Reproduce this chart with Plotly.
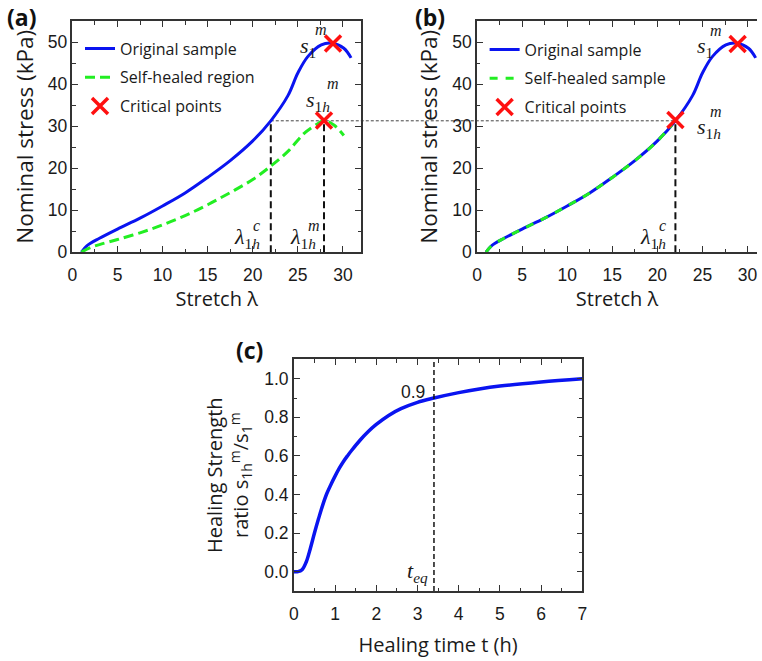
import plotly.graph_objects as go

# ---------------- data ----------------
# (a)/(b) original sample stress-stretch curve
lam_orig = [1.0, 1.6, 3.0, 5.0, 7.5, 10.0, 12.5, 15.0, 17.5, 20.0, 22.0, 23.9, 25.0, 26.1, 27.6, 28.8, 30.1, 30.9]
s_orig = [0.0, 1.5, 3.3, 5.5, 8.1, 11.0, 14.1, 17.8, 21.8, 26.5, 31.3, 37.3, 42.7, 46.6, 49.4, 49.8, 48.6, 46.3]

# (a) self-healed region
lam_heal = [1.0, 2.0, 3.0, 5.0, 7.5, 10.0, 12.5, 15.0, 17.5, 20.0, 22.0, 23.9, 25.7, 27.2, 27.9, 29.0, 30.1]
s_heal = [0.0, 1.1, 1.8, 3.0, 4.6, 6.5, 8.7, 11.3, 14.2, 17.3, 20.5, 24.0, 28.3, 30.6, 31.4, 30.3, 27.8]

# (b) self-healed sample (coincides with original up to rupture)
lam_heal_b = [1.0, 1.6, 3.0, 5.0, 7.5, 10.0, 12.5, 15.0, 17.5, 20.0, 21.6]
s_heal_b = [0.0, 1.5, 3.3, 5.5, 8.1, 11.0, 14.1, 17.8, 21.8, 26.5, 30.3]

# critical points
crit_a_lam = [28.9, 27.9]
crit_a_s = [49.7, 31.4]
crit_b_lam = [28.9, 22.0]
crit_b_s = [49.6, 31.5]

lam_c = 22.0      # lambda_1h^c
lam_m = 27.9      # lambda_1h^m
s_1h_m = 31.3     # s_1h^m

# (c) healing strength ratio vs time
t_heal = [0.0, 0.1, 0.2, 0.3, 0.4, 0.5, 0.6, 0.7, 0.8, 0.9, 1.0, 1.1, 1.2, 1.3, 1.4, 1.6, 1.8, 2.0, 2.3, 2.6,
          3.0, 3.4, 4.0, 4.5, 5.0, 6.0, 7.0]
ratio = [0.0, 0.0, 0.01, 0.05, 0.12, 0.20, 0.275, 0.345, 0.405, 0.452, 0.495, 0.535, 0.57, 0.60, 0.628,
         0.68, 0.725, 0.763, 0.81, 0.845, 0.878, 0.90, 0.928, 0.947, 0.962, 0.983, 1.0]
t_eq = 3.4

x_ticks_ab = [0, 5, 10, 15, 20, 25, 30]
y_ticks_ab = [0, 10, 20, 30, 40, 50]
x_ticks_c = [0, 1, 2, 3, 4, 5, 6, 7]
y_ticks_c = [0.0, 0.2, 0.4, 0.6, 0.8, 1.0]

# ---------------- style ----------------
W, H = 762, 661
BLUE = "#0a14f0"
GREEN = "#22ee22"
RED = "#ff1010"
TICKFONT = dict(family="Liberation Sans, Arial", size=17.5, color="#1a1a1a")
TITLEFONT = dict(family="Open Sans", size=20, color="#1a1a1a")
TITLEFONT_Y = dict(family="Open Sans", size=22.5, color="#1a1a1a")

dom_a_x = [68.3 / W, 360.7 / W]
dom_b_x = [478.3 / W, 1.0]
dom_ab_y = [(H - 256) / H, (H - 21.7) / H]
dom_c_x = [292.7 / W, 585.0 / W]
dom_c_y = [(H - 600) / H, (H - 365) / H]

range_a_x = [0, 32]
range_b_x = [0, 0 + (W - 478.3) / ((360.7 - 68.3) / 32)]
range_ab_y = [0, 55]

fig = go.Figure()

# ----- panel (a) -----
fig.add_trace(go.Scatter(x=lam_orig, y=s_orig, mode="lines", line=dict(color=BLUE, width=3, shape="spline"),
                         name="Original sample", xaxis="x", yaxis="y", legend="legend", legendgroup="a1"))
fig.add_trace(go.Scatter(x=lam_heal, y=s_heal, mode="lines",
                         line=dict(color=GREEN, width=3, dash="10px,5px", shape="spline"),
                         name="Self-healed region", xaxis="x", yaxis="y", legend="legend", legendgroup="a2"))
fig.add_trace(go.Scatter(x=crit_a_lam, y=crit_a_s, mode="markers",
                         marker=dict(symbol="x-thin", size=16, line=dict(color=RED, width=3.5)),
                         name="Critical points", xaxis="x", yaxis="y", legend="legend", legendgroup="a3"))

# ----- panel (b) -----
fig.add_trace(go.Scatter(x=lam_orig, y=s_orig, mode="lines", line=dict(color=BLUE, width=3, shape="spline"),
                         name="Original sample", xaxis="x2", yaxis="y2", legend="legend2", legendgroup="b1"))
fig.add_trace(go.Scatter(x=lam_heal_b, y=s_heal_b, mode="lines",
                         line=dict(color=GREEN, width=3, dash="8px,8px", shape="spline"),
                         name="Self-healed sample", xaxis="x2", yaxis="y2", legend="legend2", legendgroup="b2"))
fig.add_trace(go.Scatter(x=crit_b_lam, y=crit_b_s, mode="markers",
                         marker=dict(symbol="x-thin", size=16, line=dict(color=RED, width=3.5)),
                         name="Critical points", xaxis="x2", yaxis="y2", legend="legend2", legendgroup="b3"))

# ----- panel (c) -----
fig.add_trace(go.Scatter(x=t_heal, y=ratio, mode="lines", line=dict(color=BLUE, width=3.5, shape="spline"),
                         showlegend=False, xaxis="x3", yaxis="y3"))


def axis(domain, rng, tickvals, minor_dtick, anchor, title, mirror="ticks", fmt=None, standoff=None,
         tfont=TITLEFONT, labelstandoff=0):
    d = dict(domain=domain, range=rng, tickvals=tickvals, anchor=anchor,
             showline=True, linecolor="#333333", linewidth=1.5, mirror=mirror,
             ticks="inside", ticklen=6, tickwidth=1.3, tickcolor="#333333",
             minor=dict(ticks="inside", ticklen=3.5, tickwidth=1.2, tickcolor="#333333", dtick=minor_dtick),
             showgrid=False, zeroline=False, tickfont=TICKFONT, ticklabelstandoff=labelstandoff,
             title=dict(text=title, font=tfont))
    if standoff is not None:
        d["title"]["standoff"] = standoff
    if fmt:
        d["tickformat"] = fmt
    return d


fig.update_layout(
    width=W, height=H, margin=dict(l=0, r=0, t=0, b=0),
    paper_bgcolor="white", plot_bgcolor="white",
    font=dict(family="Open Sans", color="#1a1a1a"),
    xaxis=axis(dom_a_x, range_a_x, x_ticks_ab, 2.5, "y", "Stretch λ", standoff=0, labelstandoff=6),
    yaxis=axis(dom_ab_y, range_ab_y, y_ticks_ab, 5, "x", "Nominal stress (kPa)", standoff=8, tfont=TITLEFONT_Y),
    xaxis2=axis(dom_b_x, range_b_x, x_ticks_ab, 2.5, "y2", "Stretch λ", standoff=0, labelstandoff=6),
    yaxis2=axis(dom_ab_y, range_ab_y, y_ticks_ab, 5, "x2", "Nominal stress (kPa)", mirror=False, standoff=8,
                tfont=TITLEFONT_Y),
    xaxis3=axis(dom_c_x, [0, 7], x_ticks_c, 0.5, "y3", "Healing time t (h)", standoff=15, labelstandoff=6),
    yaxis3=axis(dom_c_y, [-0.1, 1.1], y_ticks_c, 0.1, "x3",
                "Healing Strength<br>ratio s<sub>1h</sub><sup>m</sup>/s<sub>1</sub><sup>m</sup>",
                fmt=".1f", standoff=10),
    legend=dict(x=76 / W, y=(H - 32) / H, xanchor="left", yanchor="top", bgcolor="rgba(0,0,0,0)",
                font=dict(family="Open Sans", size=16, color="#1a1a1a"), tracegroupgap=5,
                itemwidth=30),
    legend2=dict(x=486 / W, y=(H - 33) / H, xanchor="left", yanchor="top", bgcolor="rgba(0,0,0,0)",
                 font=dict(family="Open Sans", size=16, color="#1a1a1a"), tracegroupgap=5,
                 itemwidth=30),
)

# ---- reference lines ----
def xa_to_paper(v):
    return dom_a_x[0] + (v - range_a_x[0]) / (range_a_x[1] - range_a_x[0]) * (dom_a_x[1] - dom_a_x[0])


def xb_to_paper(v):
    return dom_b_x[0] + (v - range_b_x[0]) / (range_b_x[1] - range_b_x[0]) * (dom_b_x[1] - dom_b_x[0])


fig.add_shape(type="line", xref="paper", yref="y", x0=xa_to_paper(lam_c), x1=xb_to_paper(lam_c),
              y0=s_1h_m, y1=s_1h_m, line=dict(color="#444444", width=1, dash="3px,2px"), layer="below")
fig.add_shape(type="line", xref="x", yref="y", x0=lam_c, x1=lam_c, y0=0, y1=s_1h_m,
              line=dict(color="#111111", width=2, dash="7px,4px"))
fig.add_shape(type="line", xref="x", yref="y", x0=lam_m, x1=lam_m, y0=0, y1=crit_a_s[1],
              line=dict(color="#111111", width=2, dash="7px,4px"))
fig.add_shape(type="line", xref="x2", yref="y2", x0=lam_c, x1=lam_c, y0=0, y1=s_1h_m,
              line=dict(color="#111111", width=2, dash="7px,4px"))
fig.add_shape(type="line", xref="x3", yref="y3", x0=t_eq, x1=t_eq, y0=-0.1, y1=1.1,
              line=dict(color="#111111", width=1.5, dash="5px,3px"))

# ---- annotations ----
SERIF = dict(family="Liberation Serif, Times New Roman", size=22, color="#1a1a1a")
SERIF_SM = dict(family="Liberation Serif, Times New Roman", size=16, color="#1a1a1a")


def ann(x, y, text, xref, yref, font, xanchor="left", yanchor="middle"):
    fig.add_annotation(x=x, y=y, xref=xref, yref=yref, text=text, showarrow=False, font=font,
                       xanchor=xanchor, yanchor=yanchor, borderpad=0)


# panel (a)
ann(25.1, 49.0, "<i>s</i><sub>1</sub>", "x", "y", SERIF)
ann(26.8, 53.0, "<i>m</i>", "x", "y", SERIF_SM)
ann(25.8, 36.0, "<i>s</i><sub>1<i>h</i></sub>", "x", "y", SERIF)
ann(28.1, 40.2, "<i>m</i>", "x", "y", SERIF_SM)
ann(17.8, 3.3, "<i>λ</i><sub>1<i>h</i></sub>", "x", "y", SERIF)
ann(19.9, 6.3, "<i>c</i>", "x", "y", SERIF_SM)
ann(24.0, 3.3, "<i>λ</i><sub>1<i>h</i></sub>", "x", "y", SERIF)
ann(26.0, 6.3, "<i>m</i>", "x", "y", SERIF_SM)

# panel (b)
ann(24.3, 49.0, "<i>s</i><sub>1</sub>", "x2", "y2", SERIF)
ann(25.7, 52.8, "<i>m</i>", "x2", "y2", SERIF_SM)
ann(24.3, 29.6, "<i>s</i><sub>1<i>h</i></sub>", "x2", "y2", SERIF)
ann(25.7, 33.5, "<i>m</i>", "x2", "y2", SERIF_SM)
ann(18.0, 3.3, "<i>λ</i><sub>1<i>h</i></sub>", "x2", "y2", SERIF)
ann(20.1, 6.3, "<i>c</i>", "x2", "y2", SERIF_SM)

# panel (c)
ann(2.9, 0.93, "0.9", "x3", "y3", TICKFONT, xanchor="center")
ann(2.72, 0.0, "<i>t</i><sub><i>eq</i></sub>", "x3", "y3", SERIF)

# panel labels
LBL = dict(family="Open Sans", size=23, color="#111111")
fig.add_annotation(x=0, y=1 - 17 / H, xref="paper", yref="paper", text="<b>(a)</b>", showarrow=False,
                   font=LBL, xanchor="left", yanchor="middle")
fig.add_annotation(x=413 / W, y=1 - 17 / H, xref="paper", yref="paper", text="<b>(b)</b>", showarrow=False,
                   font=LBL, xanchor="left", yanchor="middle")
fig.add_annotation(x=232 / W, y=1 - 355 / H, xref="paper", yref="paper", text="<b>(c)</b>", showarrow=False,
                   font=LBL, xanchor="left", yanchor="middle")

fig.write_html("out.html")
